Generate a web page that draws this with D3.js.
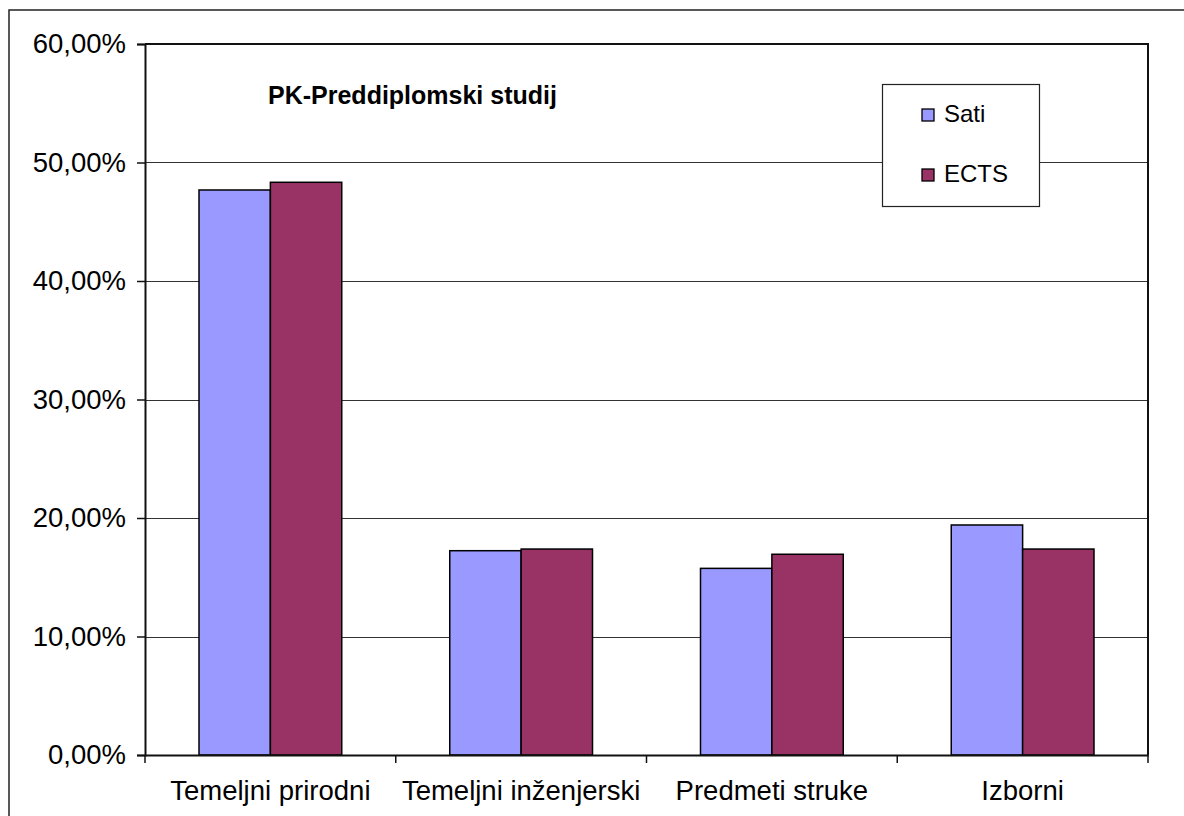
<!DOCTYPE html>
<html>
<head>
<meta charset="utf-8">
<script src="https://cdn.jsdelivr.net/npm/d3@7"></script>
<style>
  html, body { margin: 0; padding: 0; background: #fff; }
  svg { display: block; font-family: "Liberation Sans", Arial, sans-serif; }
</style>
</head>
<body>
<svg id="chart" width="1184" height="816"></svg>
<script>
const categories = ["Temeljni prirodni", "Temeljni inženjerski", "Predmeti struke", "Izborni"];
const seriesNames = ["Sati", "ECTS"];
const satiValues = [0.4768, 0.1724, 0.1575, 0.1941];
const ectsValues = [0.4833, 0.1738, 0.1694, 0.1738];
const seriesColors = ["#9999FF", "#993366"];
const yTicks = [0, 0.1, 0.2, 0.3, 0.4, 0.5, 0.6];
const titleText = "PK-Preddiplomski studij";

const svg = d3.select("#chart");
const plot = { left: 145, right: 1148, top: 44, bottom: 755 };

// outer chart frame
svg.append("rect")
  .attr("x", 9).attr("y", 10).attr("width", 1200).attr("height", 900)
  .attr("fill", "none").attr("stroke", "#222").attr("stroke-width", 1.5);

const y = d3.scaleLinear().domain([0, 0.6]).range([plot.bottom, plot.top]);
const x0 = d3.scaleBand().domain(categories).range([plot.left, plot.right]).padding(0);
const groupPad = 54;
const x1 = d3.scaleBand().domain(seriesNames)
  .range([groupPad, x0.bandwidth() - groupPad]).padding(0);

// gridlines
svg.append("g").selectAll("line")
  .data(yTicks.filter(d => d > 0 && d < 0.6))
  .join("line")
  .attr("x1", plot.left).attr("x2", plot.right)
  .attr("y1", d => Math.round(y(d)) + 0.5).attr("y2", d => Math.round(y(d)) + 0.5)
  .attr("stroke", "#333").attr("stroke-width", 1);

// plot border top/right
svg.append("path")
  .attr("d", `M${plot.left},${plot.top}H${plot.right}V${plot.bottom}`)
  .attr("fill", "none").attr("stroke", "#111").attr("stroke-width", 2);

// bars
const data = categories.map((c, i) => ({ cat: c, values: [satiValues[i], ectsValues[i]] }));
const groups = svg.append("g").selectAll("g")
  .data(data).join("g")
  .attr("transform", d => `translate(${x0(d.cat)},0)`);
groups.selectAll("rect")
  .data(d => d.values.map((v, j) => ({ s: seriesNames[j], v, j })))
  .join("rect")
  .attr("x", d => x1(d.s))
  .attr("width", x1.bandwidth())
  .attr("y", d => y(d.v))
  .attr("height", d => y(0) - y(d.v))
  .attr("fill", d => seriesColors[d.j])
  .attr("stroke", "#000").attr("stroke-width", 1.5);

// y axis
const yAxis = d3.axisLeft(y).tickValues(yTicks).tickSize(8).tickPadding(11)
  .tickFormat(d => (d * 100).toFixed(2).replace(".", ",") + "%");
const gy = svg.append("g").attr("transform", `translate(${plot.left},0)`).call(yAxis);
gy.select(".domain").attr("stroke", "#111").attr("stroke-width", 2);
gy.selectAll(".tick line").attr("stroke", "#111").attr("stroke-width", 1.5);
gy.selectAll("text").attr("font-size", 27.5).attr("fill", "#000")
  .attr("font-family", "Liberation Sans, Arial, sans-serif");

// x axis
const xAxis = d3.axisBottom(x0).tickSize(0).tickPadding(25);
const gx = svg.append("g").attr("transform", `translate(0,${plot.bottom})`).call(xAxis);
gx.select(".domain").attr("stroke", "#111").attr("stroke-width", 2);
gx.selectAll("text").attr("font-size", 27.5).attr("fill", "#000")
  .attr("font-family", "Liberation Sans, Arial, sans-serif");
// category boundary ticks
gx.append("g").selectAll("line")
  .data(categories.map(c => x0(c)).concat([plot.right]))
  .join("line")
  .attr("x1", d => d).attr("x2", d => d)
  .attr("y1", 0).attr("y2", 8)
  .attr("stroke", "#111").attr("stroke-width", 1.5);

// title
svg.append("text")
  .attr("x", 268).attr("y", 104)
  .attr("font-size", 25).attr("font-weight", "bold").attr("fill", "#000")
  .text(titleText);

// legend
const lg = svg.append("g");
lg.append("rect")
  .attr("x", 882.5).attr("y", 84.5).attr("width", 157).attr("height", 122)
  .attr("fill", "#fff").attr("stroke", "#222").attr("stroke-width", 1.2);
const legendRows = [115, 175];
seriesNames.forEach((s, i) => {
  lg.append("rect")
    .attr("x", 922).attr("y", legendRows[i] - 6).attr("width", 12).attr("height", 12)
    .attr("fill", seriesColors[i]).attr("stroke", "#000").attr("stroke-width", 1.3);
  lg.append("text")
    .attr("x", 944).attr("y", legendRows[i] + 7)
    .attr("font-size", 24).attr("fill", "#000")
    .text(s);
});
</script>
</body>
</html>
